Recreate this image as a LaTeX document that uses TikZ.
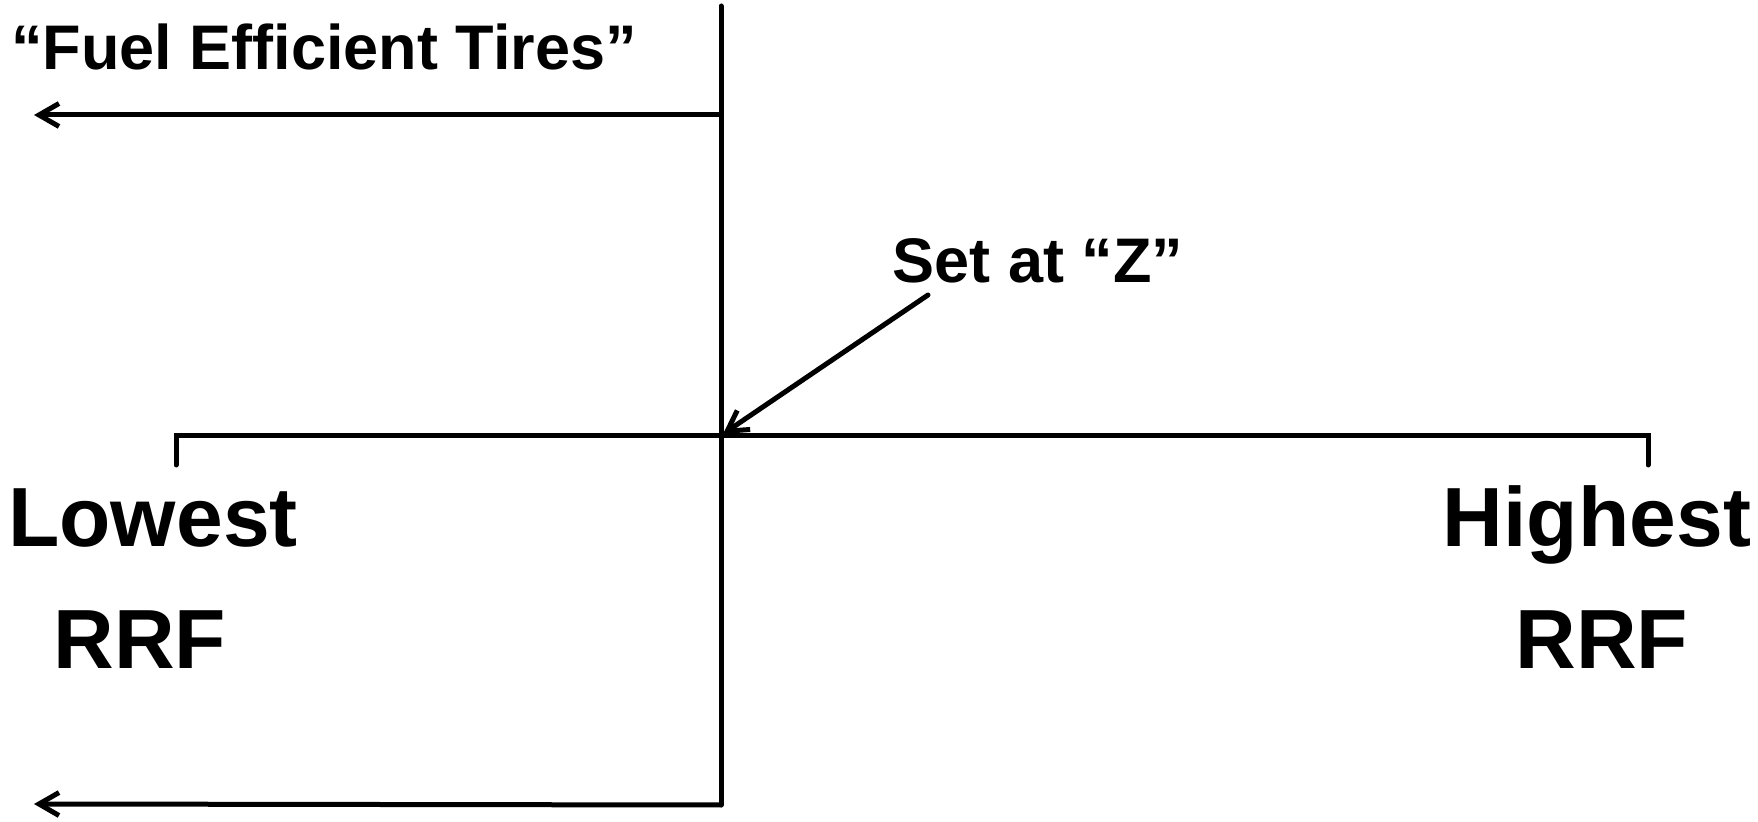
\documentclass[tikz,border=0pt]{standalone}
\usepackage{fontspec}
\setmainfont{Liberation Sans}
\usetikzlibrary{arrows.meta}
\begin{document}
\begin{tikzpicture}[x=0.5pt,y=-0.5pt,
  ln/.style={line width=2.5pt, line cap=round, line join=miter},
  arr/.style={ln, -{Straight Barb[length=10pt,width=11.5pt,line width=2.5pt]}},
  mid/.style={font=\bfseries\fontsize{31.5pt}{36pt}\selectfont, inner sep=0pt, anchor=base},
  big/.style={font=\bfseries\fontsize{42pt}{48pt}\selectfont, inner sep=0pt, anchor=base}]
\useasboundingbox (0,0) rectangle (1758,822);
% texts
\node[mid] (fuel) at (324,69.5) {“Fuel Efficient Tires”};
\node[mid] (setz) at (1038,283) {Set at “Z”};
\node[big] (low) at (153,547) {Lowest};
\node[big] (rrfl) at (140,669) {RRF};
\node[big] (high) at (1597,547) {Highest};
\node[big] (rrfr) at (1602,669) {RRF};
% coordinates
\coordinate (vtop) at (721,6);
\coordinate (vbot) at (721,805);
\coordinate (ta) at (721,115);
\coordinate (tatip) at (34,115);
\coordinate (batip) at (34,804);
\coordinate (lt) at (176,465);
\coordinate (lc) at (176,436);
\coordinate (rc) at (1648,436);
\coordinate (rt) at (1648,465);
\coordinate (ds) at (928,295);
\coordinate (z) at (723,434);
% lines
\draw[ln] (vtop) -- (vbot);
\draw[arr] (ta) -- (tatip);
\draw[arr] (vbot) -- (batip);
\draw[ln] (lt) -- (lc) -- (rc) -- (rt);
\draw[arr] (ds) -- (z);
\end{tikzpicture}
\end{document}
